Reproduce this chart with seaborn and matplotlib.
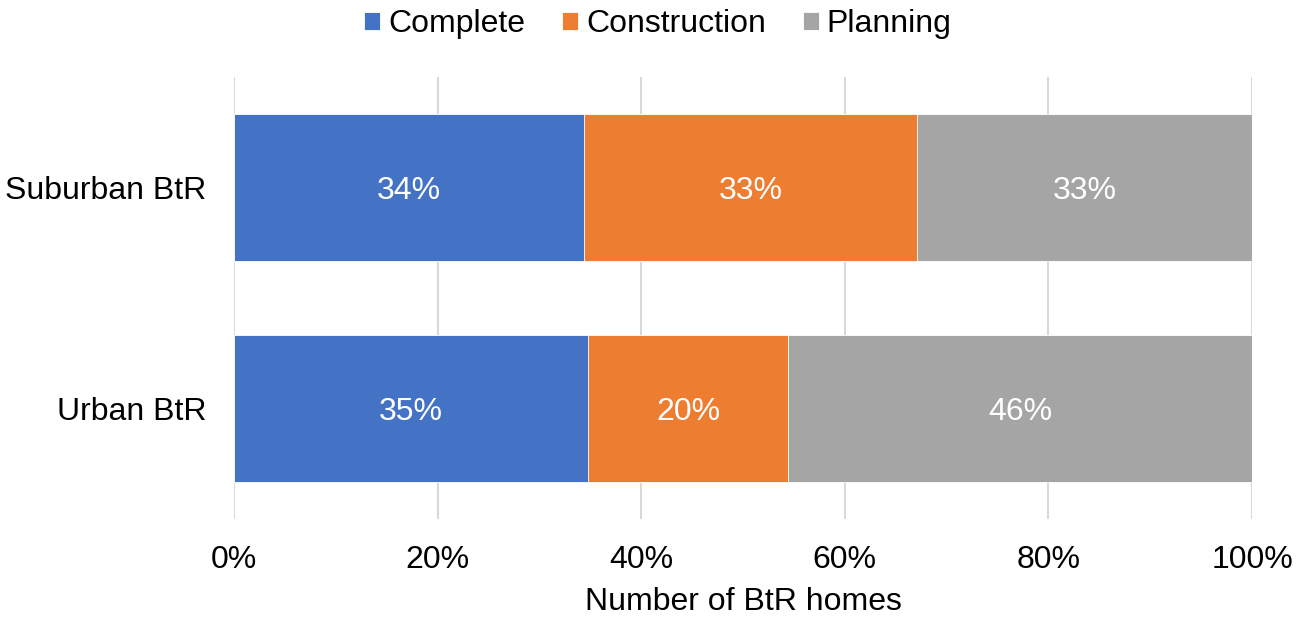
import matplotlib
matplotlib.use("Agg")
import matplotlib.pyplot as plt
import seaborn as sns
import pandas as pd
import numpy as np

# Share of BtR homes by development stage (%)
categories = ["Suburban BtR", "Urban BtR"]
stages = ["Complete", "Construction", "Planning"]
complete = [34.4, 34.8]
construction = [32.7, 19.6]
planning = [32.9, 45.6]
x_ticks = [0, 20, 40, 60, 80, 100]
x_tick_labels = ["0%", "20%", "40%", "60%", "80%", "100%"]
colors = {"Complete": "#4472C4", "Construction": "#ED7D31", "Planning": "#A5A5A5"}

sns.set_theme(style="white")
plt.rcParams["font.family"] = ["Liberation Sans", "DejaVu Sans"]
plt.rcParams["text.color"] = "black"

df = pd.DataFrame({"category": categories, "Complete": complete,
                   "Construction": construction, "Planning": planning})
df["cum_complete"] = df["Complete"]
df["cum_construction"] = df["Complete"] + df["Construction"]
df["cum_planning"] = df["cum_construction"] + df["Planning"]

fig = plt.figure(figsize=(12.96, 6.18), dpi=100)
ax = fig.add_axes([234 / 1296, 1 - 519 / 618, (1252 - 234) / 1296, (519 - 77) / 618])

# Stack by drawing cumulative totals from the back to the front
for col, stage in [("cum_planning", "Planning"), ("cum_construction", "Construction"),
                   ("cum_complete", "Complete")]:
    sns.barplot(data=df, x=col, y="category", orient="h", color=colors[stage],
                width=0.665, edgecolor="#ffffff", linewidth=0.6, ax=ax,
                saturation=1, label=stage, zorder=2)

# Segment value labels
for i in range(len(categories)):
    starts = [0, complete[i], complete[i] + construction[i]]
    vals = [complete[i], construction[i], planning[i]]
    for s, v in zip(starts, vals):
        ax.text(s + v / 2, i, f"{round(v):d}%", ha="center", va="center_baseline",
                color="white", fontsize=23, zorder=3)

ax.set_xlim(0, 100)
ax.set_ylim(1.5, -0.5)
ax.set_xticks(x_ticks)
ax.set_xticklabels(x_tick_labels)
ax.xaxis.grid(True, color="#d9d9d9", linewidth=1.5, zorder=0)
ax.set_axisbelow(True)
for sp in ax.spines.values():
    sp.set_visible(False)
ax.tick_params(axis="both", length=0, labelsize=23, colors="black")
ax.tick_params(axis="x", pad=19)
ax.tick_params(axis="y", pad=20)
ax.set_ylabel("")
ax.set_xlabel("Number of BtR homes", fontsize=23, color="black", labelpad=8)

handles, labels = ax.get_legend_handles_labels()
order = [labels.index(s) for s in stages]
leg = fig.legend([handles[k] for k in order], [labels[k] for k in order],
                 loc="center", bbox_to_anchor=(658 / 1296, 1 - 24 / 618), ncol=3,
                 frameon=False, fontsize=23, handlelength=0.5, handleheight=0.5,
                 handletextpad=0.25, columnspacing=1.15, labelcolor="black")
if ax.get_legend() is not None:
    ax.get_legend().remove()

fig.savefig("out.png", dpi=100)
